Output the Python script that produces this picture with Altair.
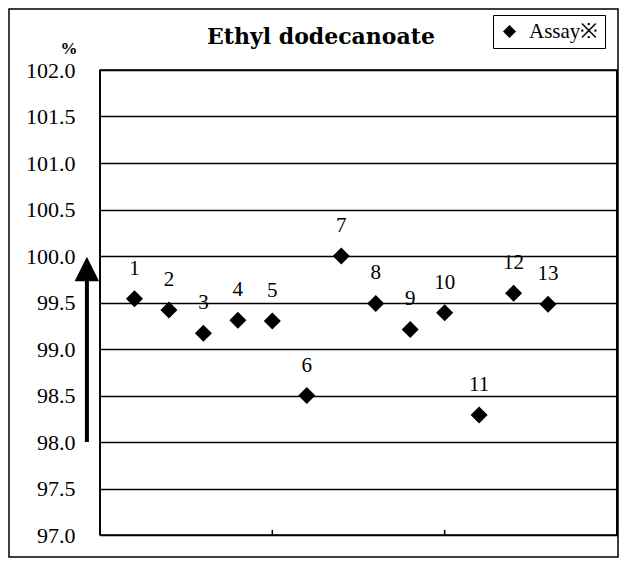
import altair as alt
import pandas as pd

# ---- data ----
sample_no = [1, 2, 3, 4, 5, 6, 7, 8, 9, 10, 11, 12, 13]
assay = [99.54, 99.42, 99.17, 99.31, 99.30, 98.50, 100.00, 99.49, 99.21, 99.39, 98.29, 99.60, 99.48]
point_labels = [str(n) for n in sample_no]
y_ticks = [97.0, 97.5, 98.0, 98.5, 99.0, 99.5, 100.0, 100.5, 101.0, 101.5, 102.0]
x_ticks = [5, 10]
x_edges = [0, 15]
series_name = "Assay※"
title_text = "Ethyl dodecanoate"
unit_text = "%"
arrow_x = [-0.38]
arrow_from = [98.0]
arrow_to = [99.75]
arrow_head = [99.86]

W, H = 517, 465
SERIF = "Liberation Serif"

df = pd.DataFrame({
    "n": sample_no,
    "assay": assay,
    "label": point_labels,
    "series": [series_name] * len(sample_no),
})

x_scale = alt.Scale(domain=[0, 15], nice=False, zero=False)
y_scale = alt.Scale(domain=[97, 102], nice=False, zero=False)

y_axis = alt.Axis(
    values=y_ticks, format=".1f", title=None, ticks=False, domain=False,
    grid=True, gridColor="black", gridWidth=1.3, gridOpacity=1,
    labelFont=SERIF, labelFontSize=22, labelColor="black",
    labelPadding=25,
)

def X(field):
    return alt.X(field, type="quantitative", scale=x_scale, axis=None)

def Y(field):
    return alt.Y(field, type="quantitative", scale=y_scale, axis=y_axis)

points = alt.Chart(df).mark_point(
    filled=True, shape="diamond", size=290, opacity=1
).encode(
    x=X("n"),
    y=Y("assay"),
    color=alt.Color(
        "series:N",
        scale=alt.Scale(range=["black"]),
        legend=alt.Legend(
            title=None, orient="none", legendX=393, legendY=-55,
            symbolType="diamond", symbolSize=170, symbolStrokeWidth=0,
            symbolOpacity=1,
            labelFontSize=21, labelFont=SERIF, labelColor="black",
            strokeColor="black", fillColor="white", padding=6, labelOffset=9,
        ),
    ),
)

labels = alt.Chart(df).mark_text(
    dy=-30, fontSize=21, font=SERIF, color="black"
).encode(x=X("n"), y=Y("assay"), text="label:N")

arrow_df = pd.DataFrame({"ax": arrow_x, "ay": arrow_from, "ay2": arrow_to, "ah": arrow_head})

shaft = alt.Chart(arrow_df).mark_rule(strokeWidth=4, color="black").encode(
    x=X("ax"), y=Y("ay"), y2="ay2"
)
head = alt.Chart(arrow_df).mark_point(
    shape="M0,-1L1,1L-1,1Z", filled=True, size=600, color="black", opacity=1
).encode(x=X("ax"), y=Y("ah"))

tick_df = pd.DataFrame({"tx": x_ticks, "ty": [97.0] * len(x_ticks), "ty2": [97.055] * len(x_ticks)})
xticks = alt.Chart(tick_df).mark_rule(strokeWidth=1.5, color="black").encode(
    x=X("tx"), y=Y("ty"), y2="ty2"
)

edge_df = pd.DataFrame({"ex": x_edges, "ey": [y_ticks[0]] * 2, "ey2": [y_ticks[-1]] * 2})
edges = alt.Chart(edge_df).mark_rule(strokeWidth=1.8, color="black").encode(
    x=X("ex"), y=Y("ey"), y2="ey2"
)

one = pd.DataFrame({"t": [title_text], "u": [unit_text]})
title = alt.Chart(one).mark_text(
    font="DejaVu Serif", fontWeight="bold", fontSize=22, color="black",
    align="center", baseline="alphabetic"
).encode(x=alt.value(221), y=alt.value(-26), text="t:N")

unit = alt.Chart(one).mark_text(
    font=SERIF, fontWeight="bold", fontSize=17, color="black",
    align="center", baseline="middle"
).encode(x=alt.value(-31), y=alt.value(-21), text="u:N")

frame = alt.Chart(one).mark_rect(
    fill="white", fillOpacity=0, stroke="black", strokeWidth=1.5
).encode(x=alt.value(-91), x2=alt.value(518), y=alt.value(-61), y2=alt.value(487))

chart = alt.layer(frame, edges, xticks, shaft, head, points, labels, title, unit).properties(
    width=W, height=H,
    autosize=alt.AutoSizeParams(type="none"),
    padding={"left": 92, "top": 62, "right": 2, "bottom": 23},
    background="white",
).configure(
    font=SERIF,
).configure_view(
    stroke="black", strokeWidth=1.5,
).configure_axis(
    labelFont=SERIF,
).configure_legend(
    labelFont=SERIF,
)

chart.save("out.html", embed_options={"renderer": "svg", "actions": False})
